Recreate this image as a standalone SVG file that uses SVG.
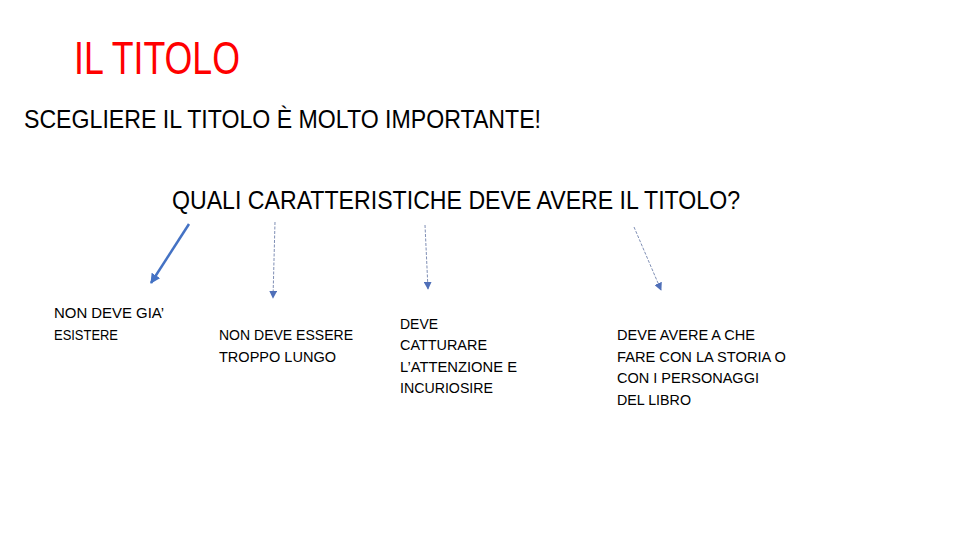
<svg xmlns="http://www.w3.org/2000/svg" width="960" height="540" viewBox="0 0 960 540">
<style>
.t{font-family:"Liberation Sans","Noto Sans",sans-serif;fill:#000}
.s{font-size:14.5px}
.solid{stroke:#4472C4;stroke-width:2.5;fill:none}
.dash{stroke:#7F8FB5;stroke-width:1;stroke-dasharray:3 1.5;fill:none}
</style>
<defs>
<marker id="ah" viewBox="0 0 10 10" refX="9" refY="5" markerWidth="4" markerHeight="4" orient="auto" markerUnits="strokeWidth">
<path d="M0,0 L10,5 L0,10 z" fill="#4472C4"/>
</marker>
<marker id="ah2" viewBox="0 0 10 10" refX="9" refY="5" markerWidth="8" markerHeight="8" orient="auto" markerUnits="strokeWidth">
<path d="M0,0 L10,5 L0,10 z" fill="#4F6FB8"/>
</marker>
</defs>
<rect width="960" height="540" fill="#fff"/>
<g id="title"><text class="t" x="74" y="74" style="font-size:46px;fill:#ff0000" textLength="166" lengthAdjust="spacingAndGlyphs">IL TITOLO</text></g>
<g id="subtitle"><text class="t" x="24" y="128" style="font-size:26px" textLength="517" lengthAdjust="spacingAndGlyphs">SCEGLIERE IL TITOLO È MOLTO IMPORTANTE!</text></g>
<g id="question"><text class="t" x="172" y="209" style="font-size:26px" textLength="568" lengthAdjust="spacingAndGlyphs">QUALI CARATTERISTICHE DEVE AVERE IL TITOLO?</text></g>
<g id="connectors">
<line class="solid" x1="189" y1="224" x2="151" y2="283" marker-end="url(#ah)"/>
<line class="dash" x1="275" y1="222" x2="273" y2="298" marker-end="url(#ah2)"/>
<line class="dash" x1="425" y1="225" x2="428" y2="289" marker-end="url(#ah2)"/>
<line class="dash" x1="634" y1="227" x2="661" y2="290" marker-end="url(#ah2)"/>
</g>
<g id="node1">
<text class="t s" x="54" y="318" textLength="110" lengthAdjust="spacingAndGlyphs">NON DEVE GIA’</text>
<text class="t s" x="54" y="340" textLength="64" lengthAdjust="spacingAndGlyphs">ESISTERE</text>
</g>
<g id="node2">
<text class="t s" x="219" y="340" textLength="134" lengthAdjust="spacingAndGlyphs">NON DEVE ESSERE</text>
<text class="t s" x="219" y="362" textLength="117" lengthAdjust="spacingAndGlyphs">TROPPO LUNGO</text>
</g>
<g id="node3">
<text class="t s" x="400" y="329" textLength="38" lengthAdjust="spacingAndGlyphs">DEVE</text>
<text class="t s" x="400" y="350" textLength="87" lengthAdjust="spacingAndGlyphs">CATTURARE</text>
<text class="t s" x="400" y="372" textLength="117" lengthAdjust="spacingAndGlyphs">L’ATTENZIONE E</text>
<text class="t s" x="400" y="393" textLength="93" lengthAdjust="spacingAndGlyphs">INCURIOSIRE</text>
</g>
<g id="node4">
<text class="t s" x="617" y="340" textLength="138" lengthAdjust="spacingAndGlyphs">DEVE AVERE A CHE</text>
<text class="t s" x="617" y="362" textLength="169" lengthAdjust="spacingAndGlyphs">FARE CON LA STORIA O</text>
<text class="t s" x="617" y="383" textLength="142" lengthAdjust="spacingAndGlyphs">CON I PERSONAGGI</text>
<text class="t s" x="617" y="405" textLength="74" lengthAdjust="spacingAndGlyphs">DEL LIBRO</text>
</g>
</svg>
